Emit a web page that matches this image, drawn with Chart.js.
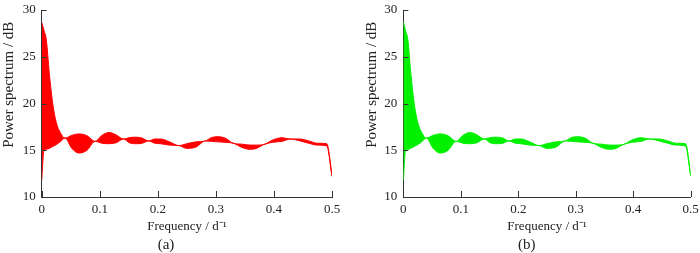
<!DOCTYPE html>
<html>
<head>
<meta charset="utf-8">
<script src="https://cdn.jsdelivr.net/npm/chart.js@4.4.1/dist/chart.umd.min.js"></script>
<style>
  html, body { margin: 0; padding: 0; background: #fff; }
  #wrap { position: relative; width: 700px; height: 253px; }
  .panel { position: absolute; top: 0; width: 350px; height: 253px; }
</style>
</head>
<body>
<div id="wrap">
  <div class="panel" style="left:0"><canvas id="chartA" width="350" height="253"></canvas></div>
  <div class="panel" style="left:350px"><canvas id="chartB" width="350" height="253"></canvas></div>
</div>
<script>
// Frequency (d^-1) sample points
const frequency = [0, 0.004, 0.008, 0.013, 0.019, 0.025, 0.032, 0.040, 0.052, 0.064, 0.078, 0.092,
  0.104, 0.116, 0.128, 0.141, 0.151, 0.162, 0.173, 0.184, 0.195, 0.205, 0.220, 0.236, 0.250,
  0.266, 0.282, 0.292, 0.303, 0.316, 0.330, 0.345, 0.359, 0.370, 0.382, 0.398, 0.414, 0.428,
  0.445, 0.460, 0.475, 0.491, 0.500];
// Upper envelope of the spectra band (dB)
const upperEnvelope = [28.7, 27.8, 26.8, 23.3, 20.0, 18.0, 16.9, 16.3, 16.6, 16.75, 16.55, 15.95,
  16.6, 16.9, 16.65, 16.2, 16.35, 16.4, 16.3, 16.0, 16.2, 16.2, 15.9, 15.5, 15.7,
  15.9, 16.0, 16.35, 16.45, 16.3, 15.75, 15.65, 15.55, 15.55, 15.6, 16.1, 16.35, 16.2,
  16.2, 16.0, 15.75, 15.7, 12.4];
// Lower envelope of the spectra band (dB)
const lowerEnvelope = [11.8, 15.0, 15.1, 15.2, 15.4, 15.6, 15.9, 16.3, 15.2, 14.7, 15.0, 15.95,
  15.75, 15.7, 15.8, 16.2, 15.8, 15.7, 15.75, 16.0, 15.75, 15.7, 15.55, 15.5, 15.2,
  15.35, 16.0, 15.95, 15.9, 15.85, 15.75, 15.3, 15.1, 15.2, 15.6, 15.85, 15.95, 16.2,
  16.0, 15.75, 15.55, 15.45, 12.2];
const xTicks = [0, 0.1, 0.2, 0.3, 0.4, 0.5];
const yTicks = [10, 15, 20, 25, 30];
const panelLabels = ['(a)', '(b)'];
const panelColors = ['#ff0000', '#00f000'];

const FONT = "'Liberation Serif', 'Times New Roman', serif";
const TXT = '#222';

const inwardTicks = {
  id: 'inwardTicks',
  afterDraw(chart) {
    const ctx = chart.ctx;
    const xs = chart.scales.x, ys = chart.scales.y;
    ctx.save();
    ctx.strokeStyle = '#333';
    ctx.lineWidth = 1;
    ctx.beginPath();
    xTicks.forEach(v => {
      const px = Math.round(xs.getPixelForValue(v)) + 0.5;
      ctx.moveTo(px, xs.top);
      ctx.lineTo(px, xs.top - 6);
    });
    yTicks.forEach(v => {
      const py = Math.round(ys.getPixelForValue(v)) + 0.5;
      ctx.moveTo(ys.right, py);
      ctx.lineTo(ys.right + 5, py);
    });
    ctx.stroke();
    ctx.restore();
  }
};

function makeChart(id, idx, padLeft, yWidth, padRight) {
  const color = panelColors[idx];
  const toPts = arr => frequency.map((f, i) => ({x: f, y: arr[i]}));
  return new Chart(document.getElementById(id), {
    type: 'line',
    data: {
      datasets: [
        { data: toPts(upperEnvelope), borderColor: color, backgroundColor: color,
          borderWidth: 1, pointRadius: 0, fill: false, cubicInterpolationMode: 'monotone' },
        { data: toPts(lowerEnvelope), borderColor: color, backgroundColor: color,
          borderWidth: 1, pointRadius: 0, fill: '-1', cubicInterpolationMode: 'monotone' }
      ]
    },
    options: {
      responsive: false,
      animation: false,
      layout: { padding: { left: padLeft, right: padRight, top: 10, bottom: 0 } },
      plugins: {
        legend: { display: false },
        tooltip: { enabled: false },
        title: {
          display: true, position: 'bottom', text: panelLabels[idx], color: TXT,
          font: { family: FONT, size: 15, weight: 'normal', lineHeight: 1.0 },
          padding: { top: 0, bottom: 0 }
        }
      },
      scales: {
        x: {
          type: 'linear', min: 0, max: 0.5,
          afterBuildTicks: s => { s.ticks = xTicks.map(v => ({value: v})); },
          ticks: { color: TXT, font: { family: FONT, size: 13 }, padding: 5, maxRotation: 0,
                   callback: v => String(v) },
          grid: { display: false, drawTicks: false },
          border: { display: true, color: '#333', width: 1 },
          title: { display: true, text: 'Frequency / d\u207B\u00B9', color: TXT,
                   font: { family: FONT, size: 13 }, padding: { top: 0, bottom: 4 } },
          afterFit: s => { s.height = 41; s.paddingLeft = 0; s.paddingRight = 0; }
        },
        y: {
          type: 'linear', min: 10, max: 30,
          afterBuildTicks: s => { s.ticks = yTicks.map(v => ({value: v})); },
          ticks: { color: TXT, font: { family: FONT, size: 13 }, padding: 6 },
          grid: { display: false, drawTicks: false },
          border: { display: true, color: '#333', width: 1 },
          title: { display: true, text: '          Power spectrum / dB', color: TXT,
                   font: { family: FONT, size: 15 }, padding: { top: 0, bottom: 0 } },
          afterFit: s => { s.width = yWidth; s.paddingTop = 0; s.paddingBottom = 0; }
        }
      }
    },
    plugins: [inwardTicks]
  });
}

makeChart('chartA', 0, 0, 41.7, 18);
makeChart('chartB', 1, 13, 40.3, 9.3);
</script>
</body>
</html>
